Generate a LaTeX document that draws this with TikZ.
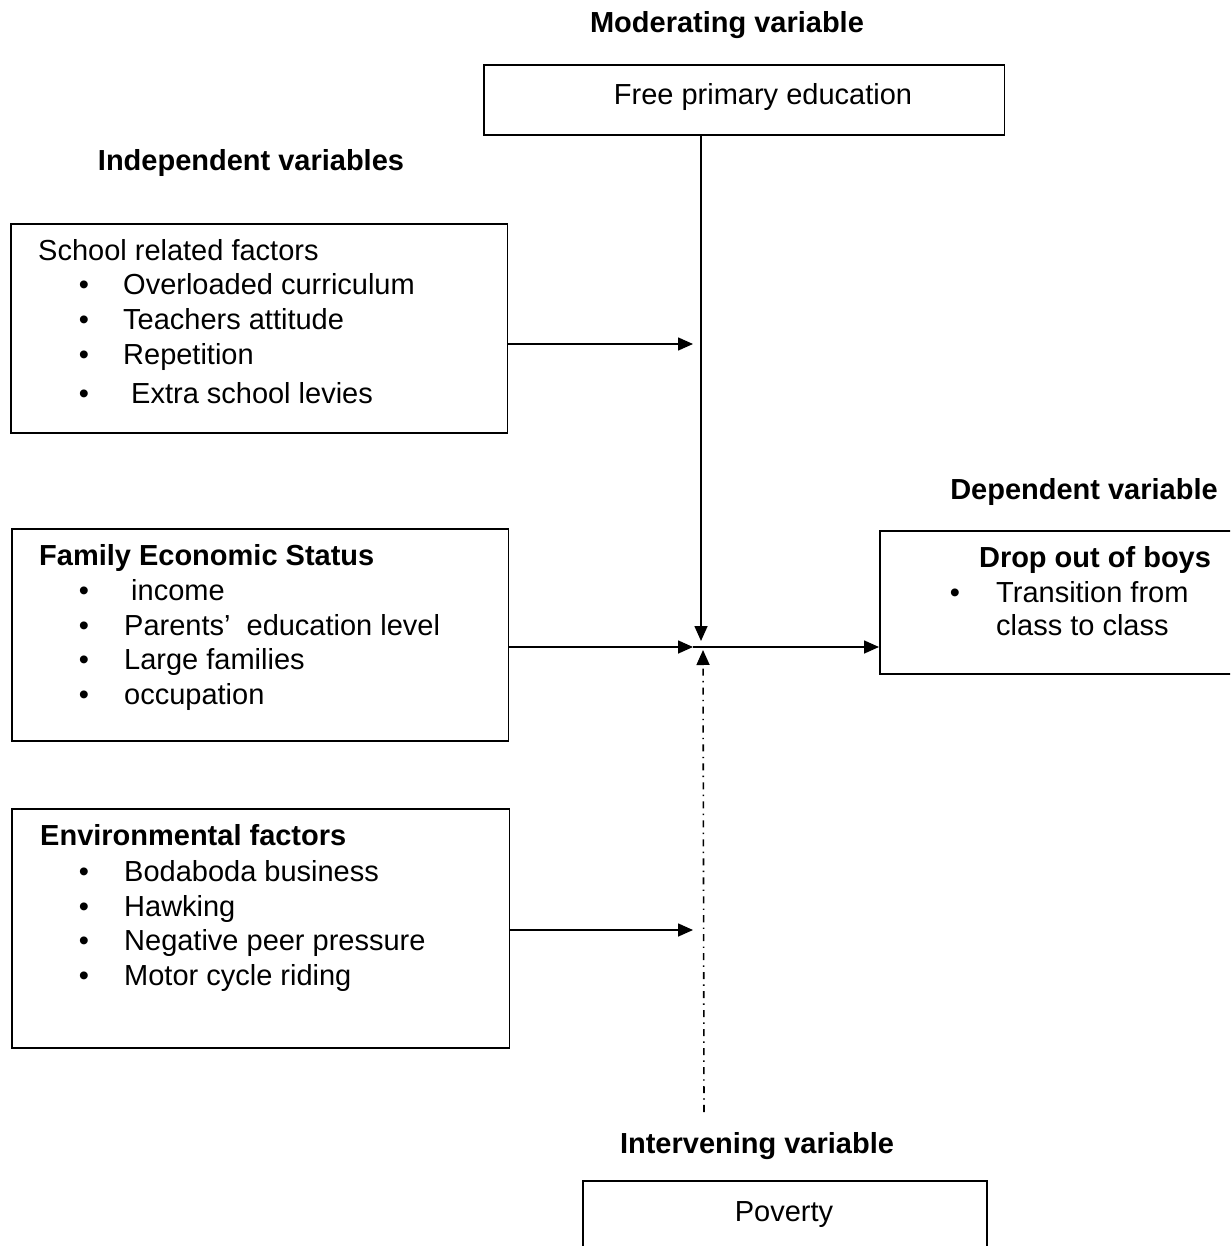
\documentclass[tikz,border=0pt]{standalone}
\usepackage{fontspec}
\setmainfont{Liberation Sans}
\usetikzlibrary{arrows.meta,positioning}

\tikzset{
  box/.style={draw, line width=0.9pt, anchor=north west, inner sep=0pt},
  head/.style={anchor=base, font=\fontsize{16.5}{20}\selectfont\bfseries},
  item/.style={anchor=base west},
  dot/.style={anchor=base},
  arr/.style={line width=0.9pt, -{Triangle[length=0.3cm,width=0.26cm]}},
  dashdot/.style={line width=0.9pt, dash pattern=on 4pt off 3pt on 0.8pt off 3pt},
}

\begin{document}
\begin{tikzpicture}[x=0.02cm, y=-0.02cm, font=\fontsize{16.5}{20}\selectfont]
    \useasboundingbox (0,0) rectangle (1230,1246);
    \clip (0,0) rectangle (1230,1246);

    % Headings
    \node[head] (modlbl) at (727,33) {Moderating variable};
    \node[head] (indlbl) at (251,171) {Independent variables};
    \node[head] (deplbl) at (1084,499) {Dependent variable};
    \node[head] (intlbl) at (757,1153) {Intervening variable};

    % Boxes
    \node[box, minimum width=10.42cm, minimum height=1.4cm] (fpe) at (483,64) {};
    \node[box, minimum width=9.94cm, minimum height=4.18cm] (school) at (10,223) {};
    \node[box, minimum width=9.94cm, minimum height=4.24cm] (family) at (11,528) {};
    \node[box, minimum width=9.96cm, minimum height=4.78cm] (env) at (11,808) {};
    \node[box, minimum width=7.06cm, minimum height=2.86cm] (drop) at (879,530) {};
    \node[box, minimum width=8.08cm, minimum height=1.6cm] (pov) at (582,1180) {};

    % Box texts
    \node[anchor=base] (fpetxt) at (763,105) {Free primary education};
    \node[anchor=base] (povtxt) at (784,1221) {Poverty};

    \node[item] (schoolhd) at (32,261) {School related factors};
    \foreach \x/\y/\t [count=\i] in {117/295/Overloaded curriculum, 117/330/Teachers attitude,
        117/365/Repetition, 125/403/Extra school levies} {
        \node[dot] (sb\i) at (84,\y) {\textbullet};
        \node[item] (si\i) at (\x,\y) {\t};
    }

    \node[item, font=\fontsize{16.5}{20}\selectfont\bfseries] (familyhd) at (33,565) {Family Economic Status};
    \foreach \x/\y/\t [count=\i] in {125/600/income, 118/635/Parents'\ \ education level,
        118/669/Large families, 118/704/occupation} {
        \node[dot] (fb\i) at (84,\y) {\textbullet};
        \node[item] (fi\i) at (\x,\y) {\t};
    }

    \node[item, font=\fontsize{16.5}{20}\selectfont\bfseries] (envhd) at (34,845) {Environmental factors};
    \foreach \x/\y/\t [count=\i] in {118/881/Bodaboda business, 118/916/Hawking,
        118/950/Negative peer pressure, 118/985/Motor cycle riding} {
        \node[dot] (eb\i) at (84,\y) {\textbullet};
        \node[item] (ei\i) at (\x,\y) {\t};
    }

    \node[head] (drophd) at (1095,567) {Drop out of boys};
    \node[dot] (db1) at (955,602) {\textbullet};
    \node[item] (di1) at (990,602) {Transition from};
    \node[item] (di2) at (990,635) {class to class};

    % Connectors
    \coordinate (hubtop) at (701,641);
    \coordinate (hubin) at (693,647);
    \coordinate (hubbot) at (703,650);
    \coordinate (a1) at (693,344);
    \coordinate (a3) at (693,930);
    \coordinate (ivend) at (704,1112);

    \draw[arr] (fpe.south -| hubtop) -- (hubtop);
    \draw[arr] (school.east |- a1) -- (a1);
    \draw[arr] (family.east |- hubin) -- (hubin);
    \draw[arr] (hubin) -- (drop.west |- hubin);
    \draw[arr] (env.east |- a3) -- (a3);
    \draw[dashdot, arr] (ivend) -- (hubbot);
\end{tikzpicture}
\end{document}
